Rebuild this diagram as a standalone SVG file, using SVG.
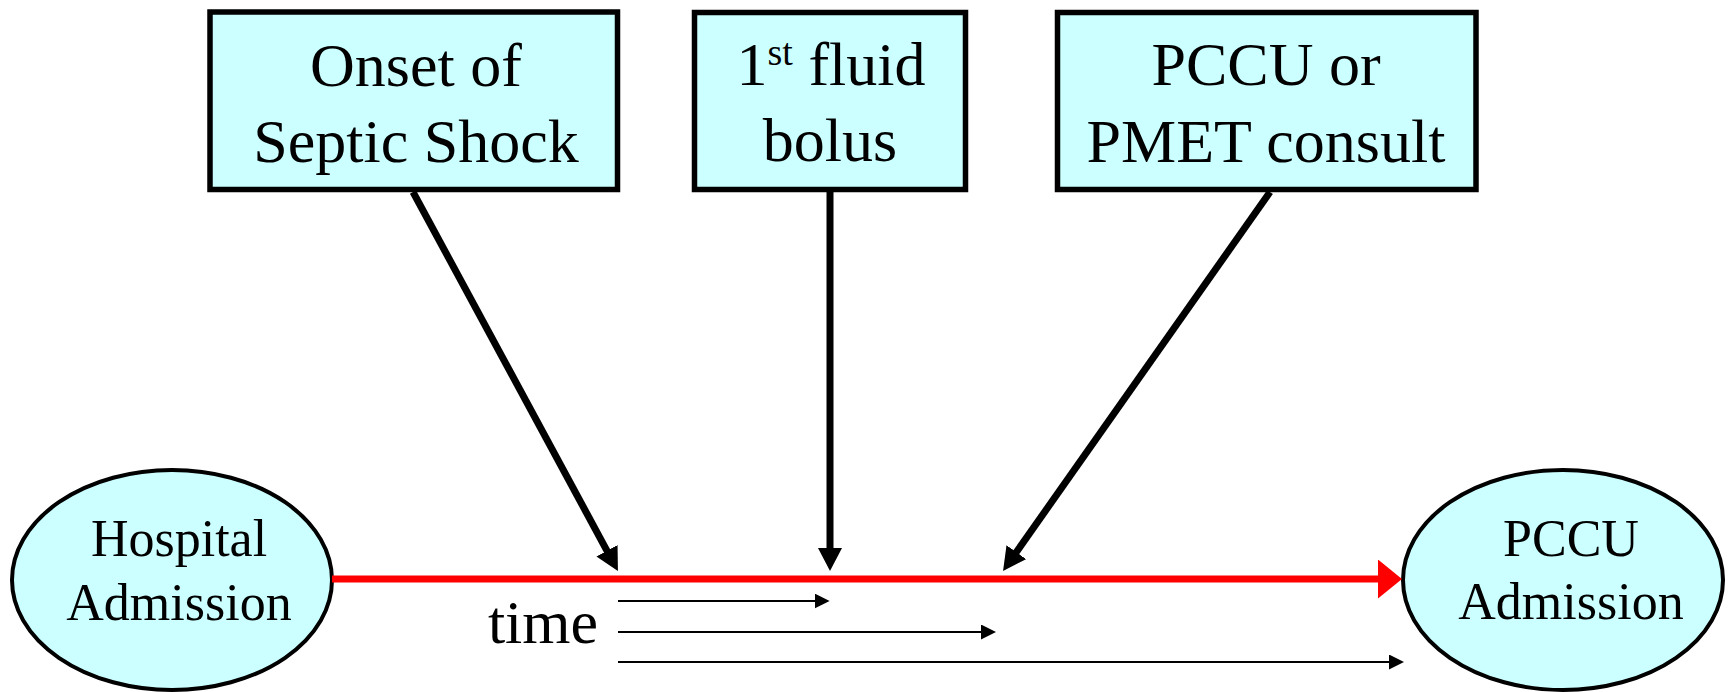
<svg xmlns="http://www.w3.org/2000/svg" width="1729" height="692" viewBox="0 0 1729 692">
  <style>
    .box { fill: #CCFFFF; stroke: #000; stroke-width: 5.5; }
    .oval { fill: #CCFFFF; stroke: #000; stroke-width: 4; }
    .big { font-family: "Liberation Serif", "Times New Roman", serif; font-size: 62px; fill: #000; text-anchor: middle; }
    .mid { font-family: "Liberation Serif", "Times New Roman", serif; font-size: 52px; fill: #000; text-anchor: middle; }
    .sup { font-size: 38px; }
    .thick { stroke: #000; stroke-width: 7; fill: none; marker-end: url(#headThick); }
    .thin { stroke: #000; stroke-width: 2; fill: none; marker-end: url(#headThin); }
    .time { stroke: #FF0000; stroke-width: 7; fill: none; marker-end: url(#headRed); }
  </style>
  <defs>
    <marker id="headThick" markerUnits="userSpaceOnUse" markerWidth="24" markerHeight="24" refX="8" refY="12" orient="auto">
      <path d="M0,0 L23,12 L0,24 z" fill="#000"/>
    </marker>
    <marker id="headThin" markerUnits="userSpaceOnUse" markerWidth="16" markerHeight="16" refX="5" refY="7.5" orient="auto">
      <path d="M0,0 L15,7.5 L0,15 z" fill="#000"/>
    </marker>
    <marker id="headRed" markerUnits="userSpaceOnUse" markerWidth="25" markerHeight="40" refX="12" refY="19.5" orient="auto">
      <path d="M0,0 L24,19.5 L0,39 z" fill="#FF0000"/>
    </marker>
  </defs>

  <!-- event boxes -->
  <g id="onset">
    <rect class="box" x="210" y="12" width="407.5" height="177.5"/>
    <text class="big" x="416" y="86">Onset of</text>
    <text class="big" x="416" y="162">Septic Shock</text>
  </g>
  <g id="bolus">
    <rect class="box" x="694.5" y="12.5" width="271" height="177"/>
    <text class="big" x="831" y="85">1<tspan class="sup" dy="-20">st</tspan><tspan dy="20"> fluid</tspan></text>
    <text class="big" x="830" y="161">bolus</text>
  </g>
  <g id="consult">
    <rect class="box" x="1057.5" y="12.5" width="418.5" height="177"/>
    <text class="big" x="1266" y="85">PCCU or</text>
    <text class="big" x="1266" y="162">PMET consult</text>
  </g>

  <!-- timeline end points -->
  <g id="hospital-admission">
    <ellipse class="oval" cx="172" cy="580" rx="160" ry="110"/>
    <text class="mid" x="179" y="556">Hospital</text>
    <text class="mid" x="179" y="620">Admission</text>
  </g>
  <g id="pccu-admission">
    <ellipse class="oval" cx="1563" cy="580" rx="160" ry="110"/>
    <text class="mid" x="1571" y="556">PCCU</text>
    <text class="mid" x="1571" y="619">Admission</text>
  </g>

  <g id="time-label">
    <text class="big" x="543" y="643">time</text>
  </g>

  <!-- connectors -->
  <g id="connectors">
    <line class="time" x1="332" y1="579" x2="1390" y2="579"/>
    <line class="thick" x1="413" y1="192" x2="610.8" y2="557.8"/>
    <line class="thick" x1="830" y1="192" x2="830" y2="556"/>
    <line class="thick" x1="1270" y1="192" x2="1011.7" y2="558.7"/>
    <line class="thin" x1="618" y1="601" x2="819.6" y2="601"/>
    <line class="thin" x1="618" y1="632" x2="986" y2="632"/>
    <line class="thin" x1="618" y1="662" x2="1394" y2="662"/>
  </g>
</svg>
